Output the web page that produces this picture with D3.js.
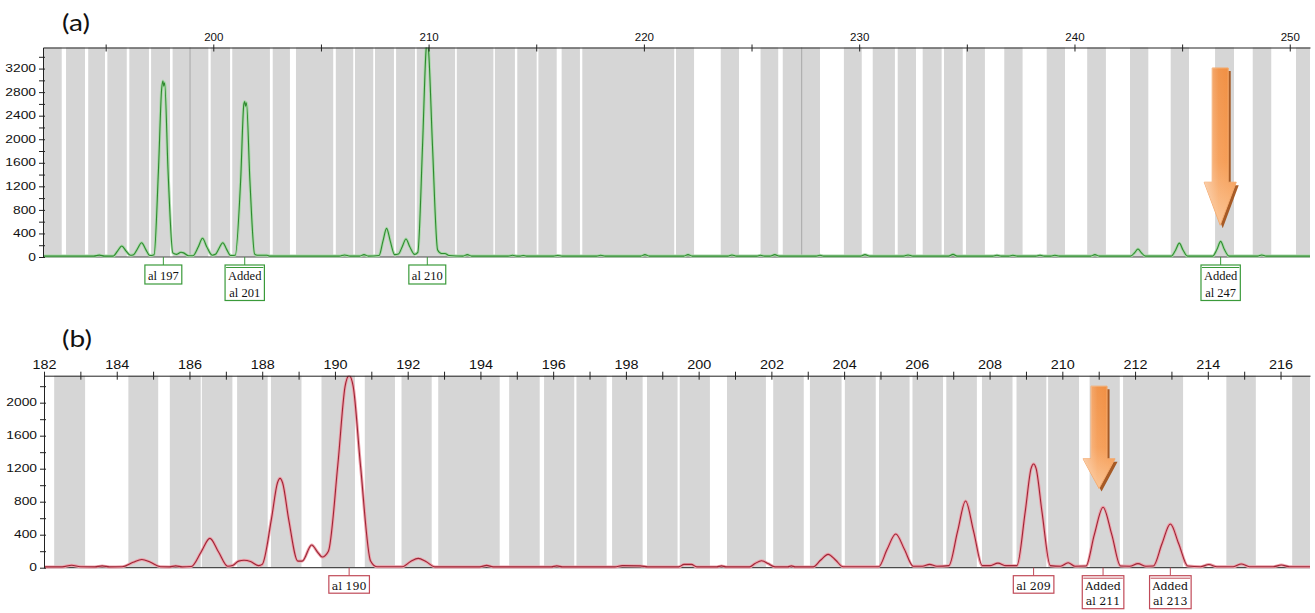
<!DOCTYPE html>
<html>
<head>
<meta charset="utf-8">
<script src="https://cdn.jsdelivr.net/npm/d3@7"></script>
<style>
body { margin: 0; background: #fff; }
svg { display: block; }
</style>
</head>
<body>
<script>

// ---------- panel (a) data ----------
// allele bins, [start bp, end bp]
var binsA = [
  [192.09,192.96],[193.16,194.04],[194.19,194.97],[195.08,195.98],[196.10,197.01],
  [197.11,197.99],[198.11,199.77],[199.88,200.78],[200.88,202.63],[202.76,203.56],
  [203.84,205.57],[205.69,206.50],[206.58,207.43],[207.51,208.39],[208.49,209.37],
  [209.45,211.23],[211.31,213.01],[213.08,214.01],[214.12,215.02],[215.10,215.95],
  [216.18,217.03],[217.14,221.41],[221.49,222.33],[223.57,224.42],[225.42,226.24],
  [226.45,228.18],[229.29,230.12],[230.63,231.66],[231.79,232.64],[232.95,233.83],
  [233.94,234.81],[234.96,235.84],[236.74,237.59],[238.71,239.56],[240.59,241.46],
  [242.58,243.43],[244.47,245.32],[246.53,247.41],[248.28,249.14],[250.29,250.94]
];
var markerLinesA = [198.92, 227.33];

// trace points, [bp, rfu]
var traceA = [
  [192.09,15],[194.45,15],[194.7,32],[194.95,15],
  [195.35,15],[195.55,100],[195.75,188],[195.95,100],[196.15,30],
  [196.3,40],[196.48,140],[196.67,243],[196.86,130],[197.05,25],
  [197.25,40],[197.45,1450],[197.6,2850],[197.66,2990],[197.7,2900],[197.74,2960],[197.9,1450],[198.12,70],
  [198.3,45],[198.5,80],[198.62,70],[198.85,20],
  [199.05,20],[199.3,170],[199.5,318],[199.7,170],[199.95,30],
  [200.1,45],[200.27,150],[200.44,243],[200.62,130],[200.8,25],
  [201.02,30],[201.27,1300],[201.42,2600],[201.46,2640],[201.5,2560],[201.54,2620],[201.7,1300],[201.92,50],
  [202.05,30],[202.5,30],[202.62,15],
  [205.85,15],[206.1,35],[206.35,15],
  [206.8,15],[207.0,40],[207.2,15],
  [207.7,25],[207.88,270],[208.05,487],[208.22,270],[208.42,40],
  [208.6,50],[208.78,180],[208.95,306],[209.12,180],[209.35,45],
  [209.5,80],[209.72,1900],[209.88,3500],[209.94,3700],[210.0,3500],[210.18,1900],[210.42,120],
  [210.6,60],[210.76,60],[210.95,25],
  [211.6,15],[211.8,40],[212.0,15],
  [213.7,15],[213.9,30],[214.1,15],[214.25,15],[214.4,25],[214.55,15],
  [215.8,15],[216.0,25],[216.2,15],
  [217.8,15],[218.0,30],[218.2,15],
  [219.85,15],[220.05,40],[220.25,15],
  [221.85,15],[222.05,40],[222.25,15],
  [223.9,15],[224.09,35],[224.3,15],
  [225.25,15],[225.42,30],[225.6,15],[225.85,15],[226.08,40],[226.3,15],
  [228.0,15],[228.18,30],[228.35,15],
  [230.05,15],[230.27,40],[230.5,15],
  [232.05,15],[232.27,35],[232.5,15],
  [234.15,15],[234.36,45],[234.55,15],
  [236.2,15],[236.4,30],[236.6,15],[236.95,15],[237.14,30],[237.35,15],
  [238.2,15],[238.4,30],[238.6,15],[238.9,15],[239.09,30],[239.3,15],
  [240.75,15],[240.95,40],[241.15,15],
  [242.6,15],[242.8,75],[242.95,135],[243.1,75],[243.3,15],
  [244.5,15],[244.7,120],[244.87,235],[245.04,120],[245.25,15],
  [246.42,15],[246.62,130],[246.79,265],[246.96,130],[247.18,15],
  [248.5,15],[248.7,35],[248.9,15],
  [250.94,15]
];

var callsA = [
  { bp: 197.68, text: ["al 197"] },
  { bp: 201.46, text: ["Added", "al 201"] },
  { bp: 209.94, text: ["al 210"] },
  { bp: 246.79, text: ["Added", "al 247"] }
];
var arrowA = { bp: 246.77, top: 3210, neck: 1270, tip: 540 };

var xMajorA = [200, 210, 220, 230, 240, 250];
var xMinorA = [195, 205, 215, 225, 235, 245];
var yMajorA = [0, 400, 800, 1200, 1600, 2000, 2400, 2800, 3200];
var yMinorA = [200, 600, 1000, 1400, 1800, 2200, 2600, 3000, 3400];

// ---------- panel (b) data ----------
var binsB = [
  [182.28,183.13],[184.32,185.14],[185.46,186.31],[186.34,187.18],[187.31,188.15],
  [188.24,189.08],[189.63,190.55],[190.82,191.65],[191.83,192.66],[192.84,194.53],
  [194.79,195.63],[195.75,196.58],[196.64,197.47],[197.62,198.46],[198.58,199.42],
  [199.48,200.31],[200.78,201.85],[202.05,202.89],[203.06,203.93],[204.02,204.87],
  [204.96,205.80],[205.88,206.72],[206.81,207.65],[207.79,208.63],[208.74,209.56],
  [209.61,210.46],[210.75,211.58],[211.67,213.32],[214.51,215.32],[216.32,216.81]
];

var traceB = [
  [182.0,10],[182.5,10],[182.76,30],[183.0,12],
  [183.4,10],[183.6,22],[183.8,10],
  [184.15,12],[184.45,65],[184.69,100],[184.93,65],[185.2,12],
  [185.45,10],[185.62,22],[185.8,10],
  [186.05,15],[186.32,190],[186.56,356],[186.8,190],[187.05,18],
  [187.2,30],[187.35,80],[187.5,90],[187.68,75],[187.9,25],
  [188.0,40],[188.25,580],[188.42,1030],[188.49,1083],[188.56,1030],[188.73,580],[188.98,80],
  [189.1,80],[189.36,275],[189.52,190],[189.65,130],
  [189.82,200],[190.08,1250],[190.28,2200],[190.39,2330],[190.5,2200],[190.7,1250],[190.98,80],[191.15,12],
  [191.85,12],[192.08,75],[192.29,113],[192.5,75],[192.75,10],
  [193.98,10],[194.17,28],[194.35,10],
  [195.95,10],[196.1,22],[196.25,10],
  [197.7,10],[197.9,25],[198.4,22],[198.6,10],
  [199.45,10],[199.6,40],[199.8,40],[199.95,10],
  [200.5,10],[200.63,22],[200.75,10],
  [201.4,10],[201.55,50],[201.73,85],[201.91,50],[202.1,10],
  [202.45,10],[202.55,22],[202.65,10],
  [203.15,10],[203.35,90],[203.56,162],[203.77,90],[203.97,12],
  [204.95,12],[205.18,220],[205.42,408],[205.66,220],[205.9,18],
  [206.15,18],[206.35,40],[206.55,18],
  [206.88,25],[207.12,440],[207.34,808],[207.56,440],[207.8,25],
  [208.0,25],[208.23,55],[208.45,25],
  [208.75,25],[208.98,680],[209.14,1200],[209.21,1257],[209.28,1200],[209.44,680],[209.67,25],
  [209.95,18],[210.16,60],[210.35,18],
  [210.65,20],[210.88,400],[211.12,732],[211.36,400],[211.6,20],
  [211.85,18],[212.08,50],[212.3,18],
  [212.5,20],[212.74,290],[212.97,530],[213.2,290],[213.45,20],
  [213.8,12],[214.03,38],[214.25,12],
  [214.7,12],[214.92,45],[215.15,12],
  [215.8,12],[216.02,32],[216.25,12],
  [216.81,12]
];

var callsB = [
  { bp: 190.39, text: ["al 190"] },
  { bp: 209.21, text: ["al 209"] },
  { bp: 211.12, text: ["Added", "al 211"] },
  { bp: 212.97, text: ["Added", "al 213"] }
];
var arrowB = { bp: 211.01, top: 2200, neck: 1320, tip: 960 };

var xMajorB = [182, 184, 186, 188, 190, 192, 194, 196, 198, 200, 202, 204, 206, 208, 210, 212, 214, 216];
var xMinorB = [183, 185, 187, 189, 191, 193, 195, 197, 199, 201, 203, 205, 207, 209, 211, 213, 215];
var yMajorB = [0, 400, 800, 1200, 1600, 2000];
var yMinorB = [200, 600, 1000, 1400, 1800, 2200];

// ---------- drawing ----------
var svg = d3.select("body").append("svg")
    .attr("width", 1315)
    .attr("height", 613);

var defs = svg.append("defs");

// orange arrow fill, darker at the top, light peach towards the tip
var grad = defs.append("linearGradient").attr("id", "arrowFill")
    .attr("x1", 0).attr("y1", 0).attr("x2", 0).attr("y2", 1);
grad.append("stop").attr("offset", "0%").attr("stop-color", "#f08a3a");
grad.append("stop").attr("offset", "60%").attr("stop-color", "#f5994f");
grad.append("stop").attr("offset", "100%").attr("stop-color", "#fbc08c");

var gloss = defs.append("linearGradient").attr("id", "arrowGloss")
    .attr("x1", 0).attr("y1", 0).attr("x2", 1).attr("y2", 0);
gloss.append("stop").attr("offset", "0%").attr("stop-color", "#fff").attr("stop-opacity", 0.45);
gloss.append("stop").attr("offset", "45%").attr("stop-color", "#fff").attr("stop-opacity", 0.1);
gloss.append("stop").attr("offset", "100%").attr("stop-color", "#fff").attr("stop-opacity", 0);

function title(txt, x, y) {
  svg.append("text")
      .attr("transform", "translate(" + x + "," + y + ") scale(1.22,1)")
      .style("font-family", "Lato, 'Open Sans', sans-serif")
      .style("font-size", "23px")
      .attr("fill", "#111")
      .text(txt);
}

function drawPanel(p) {
  var g = svg.append("g");
  var x0 = p.x.range()[0], x1 = p.x.range()[1];
  var yb = p.y.range()[0], yt = p.y.range()[1];

  // gray allele bins
  g.selectAll("rect.bin").data(p.bins).enter().append("rect")
      .attr("class", "bin")
      .attr("x", function(d) { return p.x(d[0]); })
      .attr("width", function(d) { return p.x(d[1]) - p.x(d[0]); })
      .attr("y", yt)
      .attr("height", yb - yt)
      .attr("fill", "#d6d6d6");

  g.selectAll("line.mark").data(p.marks || []).enter().append("line")
      .attr("class", "mark")
      .attr("x1", function(d) { return p.x(d); })
      .attr("x2", function(d) { return p.x(d); })
      .attr("y1", yt).attr("y2", yb)
      .attr("stroke", "#a8a8a8");

  // baseline
  g.append("line")
      .attr("x1", x0).attr("x2", x1)
      .attr("y1", yb).attr("y2", yb)
      .attr("stroke", "#4a4a4a").attr("stroke-width", 1.2);

  // the trace, clipped to the plot area
  var clipId = "clip" + p.id;
  defs.append("clipPath").attr("id", clipId).append("rect")
      .attr("x", x0).attr("y", yt)
      .attr("width", x1 - x0).attr("height", yb - yt + 3);

  var line = d3.line()
      .x(function(d) { return p.x(d[0]); })
      .y(function(d) { return p.y(d[1]); })
      .curve(d3.curveMonotoneX);

  var tg = g.append("g").attr("clip-path", "url(#" + clipId + ")");
  tg.append("path").attr("d", line(p.trace))
      .attr("fill", "none").attr("stroke", p.halo).attr("stroke-width", 3)
      .attr("stroke-linejoin", "round");
  tg.append("path").attr("d", line(p.trace))
      .attr("fill", "none").attr("stroke", p.color).attr("stroke-width", 1.1)
      .attr("stroke-linejoin", "round");

  // top axis
  var topAx = g.append("g")
      .attr("transform", "translate(0," + yt + ")")
      .call(d3.axisTop(p.x).tickValues(p.xMajor).tickSizeOuter(0).tickFormat(d3.format("d")));
  topAx.select(".domain").attr("stroke", "#222");
  topAx.selectAll(".tick line").attr("y1", p.tickDown).attr("y2", -p.tickUp).attr("stroke", "#222");
  topAx.selectAll(".tick text")
      .attr("y", -7)
      .attr("transform", "scale(" + p.xLabelStretch + ",1)")
      .style("font-family", "'Liberation Sans', Arial, sans-serif")
      .style("font-size", p.xLabelSize + "px")
      .attr("fill", "#111");

  var topMinor = g.append("g")
      .attr("transform", "translate(0," + yt + ")")
      .call(d3.axisTop(p.x).tickValues(p.xMinor).tickSizeOuter(0).tickFormat(""));
  topMinor.select(".domain").remove();
  topMinor.selectAll(".tick line").attr("y1", p.tickDown).attr("y2", -p.tickUp).attr("stroke", "#222");

  // left axis
  var sx = 1.38;
  var leftAx = g.append("g")
      .attr("transform", "translate(" + x0 + ",0)")
      .call(d3.axisLeft(p.y).tickValues(p.yMajor).tickSizeOuter(0).tickFormat(d3.format("d")));
  leftAx.select(".domain").attr("stroke", "#222");
  leftAx.selectAll(".tick line").attr("x1", 2).attr("x2", -4).attr("stroke", "#222");
  leftAx.selectAll(".tick text")
      .attr("x", -7 / sx)
      .attr("transform", "scale(" + sx + ",1)")
      .style("font-family", "'Liberation Sans', Arial, sans-serif")
      .style("font-size", "10px")
      .attr("fill", "#111");

  var leftMinor = g.append("g")
      .attr("transform", "translate(" + x0 + ",0)")
      .call(d3.axisLeft(p.y).tickValues(p.yMinor).tickSizeOuter(0).tickFormat(""));
  leftMinor.select(".domain").remove();
  leftMinor.selectAll(".tick line").attr("x1", 2).attr("x2", -4).attr("stroke", "#222");

  // allele call boxes under the baseline
  p.calls.forEach(function(c) {
    var cx = p.x(c.bp);
    var top = yb + 8;
    g.append("line")
        .attr("x1", cx).attr("x2", cx)
        .attr("y1", yb).attr("y2", top)
        .attr("stroke", p.boxColor);
    var bg = g.append("g");
    var rect = bg.append("rect");
    var texts = c.text.map(function(t, i) {
      return bg.append("text")
          .attr("x", cx)
          .attr("y", top + p.box.base + i * p.box.lh)
          .attr("text-anchor", "middle")
          .style("font-family", p.box.font)
          .style("font-size", p.box.size + "px")
          .attr("fill", "#111")
          .text(t);
    });
    var w = d3.max(texts, function(t) { return t.node().getComputedTextLength(); }) + 6;
    var h = c.text.length * p.box.lh + p.box.extra;
    rect.attr("x", cx - w / 2).attr("y", top)
        .attr("width", w).attr("height", h)
        .attr("fill", "#fff")
        .attr("stroke", p.boxColor).attr("stroke-width", 1.2);
    if (c.text.length > 1) {
      bg.append("line")
          .attr("x1", cx - w / 2 + 1).attr("x2", cx + w / 2 - 1)
          .attr("y1", top + 2.5).attr("y2", top + 2.5)
          .attr("stroke", p.boxColor).attr("stroke-width", 1);
    }
  });

  // orange arrow
  var a = p.arrow;
  var ax = p.x(a.bp), ay0 = p.y(a.top), ayn = p.y(a.neck), ayt = p.y(a.tip);
  var sw = 8, hw = 16;
  var pts = [[ax - sw, ay0], [ax + sw, ay0], [ax + sw, ayn], [ax + hw, ayn],
             [ax, ayt], [ax - hw, ayn], [ax - sw, ayn]];
  var poly = function(dx, dy) {
    return pts.map(function(q) { return (q[0] + dx) + "," + (q[1] + dy); }).join(" ");
  };
  g.append("polygon").attr("points", poly(2.5, 3))
      .attr("fill", "#a14d12").attr("opacity", 0.9);
  g.append("polygon").attr("points", poly(0, 0))
      .attr("fill", "url(#arrowFill)")
      .attr("stroke", "#f4a86a").attr("stroke-width", 1);
  g.append("polygon").attr("points", poly(0, 0))
      .attr("fill", "url(#arrowGloss)");
}

title("(a)", 62, 31);
title("(b)", 62, 347);

drawPanel({
  id: "a",
  x: d3.scaleLinear().domain([192.09, 250.94]).range([43, 1310]),
  y: d3.scaleLinear().domain([0, 3558]).range([257, 47.5]),
  bins: binsA, marks: markerLinesA, trace: traceA, calls: callsA, arrow: arrowA,
  xMajor: xMajorA, xMinor: xMinorA, yMajor: yMajorA, yMinor: yMinorA,
  color: "#2f8a2f", halo: "#a9d9a9", boxColor: "#3a9a3a",
  tickUp: 3, tickDown: 4, xLabelSize: 11, xLabelStretch: 1.05,
  box: { font: "'Liberation Serif', 'Times New Roman', serif", size: 12.5, lh: 16.5, base: 15, extra: 2.5 }
});

drawPanel({
  id: "b",
  x: d3.scaleLinear().domain([182, 216.81]).range([44, 1310]),
  y: d3.scaleLinear().domain([0, 2327]).range([567.7, 375.7]),
  bins: binsB, marks: [], trace: traceB, calls: callsB, arrow: arrowB,
  xMajor: xMajorB, xMinor: xMinorB, yMajor: yMajorB, yMinor: yMinorB,
  color: "#9c2636", halo: "#eea0aa", boxColor: "#c04a58",
  tickUp: 4, tickDown: 4, xLabelSize: 12, xLabelStretch: 1.2,
  box: { font: "'DejaVu Serif', serif", size: 11, lh: 15.5, base: 13.8, extra: 2 }
});

</script>
</body>
</html>
